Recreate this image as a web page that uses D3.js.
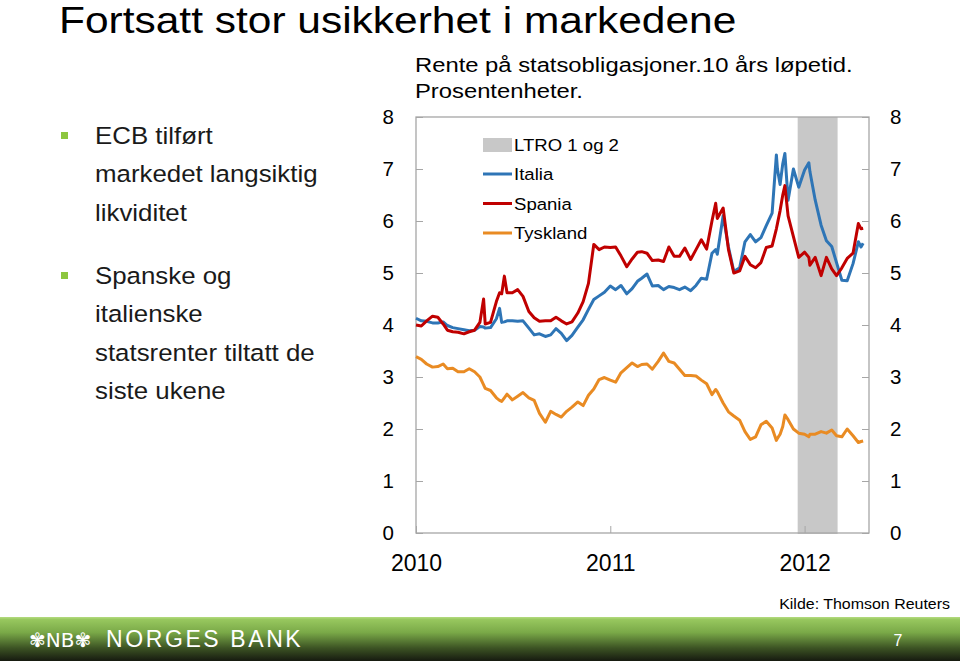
<!DOCTYPE html>
<html><head><meta charset="utf-8">
<script src="https://cdn.jsdelivr.net/npm/d3@7"></script>
<style>
html,body{margin:0;padding:0;background:#fff;}
svg{display:block;font-family:"Liberation Sans",Arial,sans-serif;}
</style></head>
<body><svg id="c" width="960" height="661"></svg>
<script>
// ---- data ----
const dates = [
"2010-01-01","2010-01-11","2010-01-21","2010-02-01","2010-02-11","2010-02-21","2010-03-01","2010-03-11","2010-03-21",
"2010-04-01","2010-04-11","2010-04-21","2010-05-01","2010-05-08","2010-05-11","2010-05-21","2010-06-01","2010-06-07",
"2010-06-11","2010-06-16","2010-06-21","2010-07-01","2010-07-11","2010-07-21","2010-08-01","2010-08-11","2010-08-21",
"2010-09-01","2010-09-11","2010-09-21","2010-10-01","2010-10-11","2010-10-21","2010-11-01","2010-11-11","2010-11-21",
"2010-12-01","2010-12-11","2010-12-21",
"2011-01-01","2011-01-11","2011-01-21","2011-02-01","2011-02-11","2011-02-21","2011-03-01","2011-03-11","2011-03-21",
"2011-04-01","2011-04-11","2011-04-21","2011-05-01","2011-05-11","2011-05-21","2011-06-01","2011-06-11","2011-06-21",
"2011-07-01","2011-07-11","2011-07-18","2011-07-21","2011-08-01","2011-08-11","2011-08-21","2011-09-01","2011-09-11",
"2011-09-21","2011-10-01","2011-10-11","2011-10-21","2011-11-01","2011-11-09","2011-11-11","2011-11-16","2011-11-21",
"2011-11-25","2011-12-01","2011-12-11","2011-12-21",
"2012-01-01","2012-01-09","2012-01-11","2012-01-21","2012-02-01","2012-02-11","2012-02-21","2012-03-01","2012-03-11",
"2012-03-21","2012-04-01","2012-04-11","2012-04-16","2012-04-20"];

const italia = [
4.13,4.08,4.07,4.04,4.04,4.06,3.99,3.95,3.93,
3.91,3.89,3.90,3.97,3.96,3.94,3.95,4.12,4.32,
4.05,4.06,4.08,4.08,4.07,4.08,3.94,3.81,3.83,
3.78,3.81,3.93,3.84,3.70,3.80,3.96,4.10,4.30,
4.49,4.56,4.63,
4.75,4.68,4.76,4.60,4.70,4.84,4.90,4.98,4.75,
4.76,4.68,4.74,4.72,4.68,4.73,4.66,4.76,4.90,
4.88,5.38,5.45,5.36,6.10,5.50,5.03,5.10,5.60,
5.74,5.60,5.68,5.91,6.15,7.27,7.00,6.70,7.10,
7.30,6.40,7.00,6.65,
6.98,7.12,6.95,6.40,5.92,5.62,5.51,5.20,4.86,
4.85,5.18,5.60,5.50,5.57];

const spania = [
4.00,3.98,4.08,4.17,4.15,4.02,3.90,3.87,3.86,
3.83,3.87,3.90,4.05,4.50,4.02,4.05,4.45,4.62,
4.60,4.94,4.62,4.62,4.68,4.55,4.26,4.14,4.07,
4.08,4.08,4.15,4.08,4.02,4.06,4.23,4.45,4.80,
5.55,5.45,5.50,
5.49,5.50,5.33,5.12,5.27,5.40,5.41,5.38,5.24,
5.25,5.22,5.50,5.32,5.32,5.48,5.26,5.45,5.64,
5.46,6.00,6.34,6.05,6.25,5.45,5.00,5.04,5.32,
5.16,5.10,5.20,5.49,5.52,5.85,5.95,6.20,6.50,
6.68,6.10,5.70,5.30,
5.40,5.30,5.15,5.30,4.95,5.30,5.08,4.95,5.10,
5.28,5.38,5.95,5.85,5.86];

const tyskland = [
3.39,3.34,3.25,3.19,3.20,3.25,3.16,3.17,3.10,
3.10,3.16,3.10,3.00,2.85,2.78,2.74,2.60,2.55,
2.53,2.60,2.67,2.56,2.63,2.70,2.60,2.55,2.30,
2.13,2.34,2.28,2.23,2.34,2.42,2.52,2.45,2.65,
2.77,2.95,2.99,
2.94,2.90,3.08,3.18,3.27,3.20,3.24,3.25,3.15,
3.30,3.46,3.30,3.27,3.15,3.03,3.03,3.02,2.94,
2.87,2.66,2.76,2.72,2.50,2.33,2.25,2.17,1.95,
1.80,1.85,2.08,2.15,2.02,1.78,1.82,1.90,2.05,
2.27,2.18,2.00,1.92,
1.90,1.85,1.90,1.90,1.95,1.92,1.98,1.87,1.85,
2.00,1.87,1.74,1.76,1.77];

const ltro = ["2011-12-19","2012-03-03"];
const yTicks = [0,1,2,3,4,5,6,7,8];
const xTicks = ["2010-01-01","2011-01-01","2012-01-01"];
const seriesNames = ["Italia","Spania","Tyskland"];
const seriesColors = ["#2e75b6","#c00000","#e98b23"];
const bullets = [
  ["ECB tilført","markedet langsiktig","likviditet"],
  ["Spanske og","italienske","statsrenter tiltatt de","siste ukene"]
];

// ---- drawing ----
const parse = d3.timeParse("%Y-%m-%d");
const svg = d3.select("#c");
const L=416, R=869, T=117, B=533;

const x = d3.scaleTime().domain([parse("2010-01-01"), parse("2012-05-01")]).range([L,R]);
const y = d3.scaleLinear().domain([0,8]).range([B,T]);

// text helper with horizontal stretch
function txt(px,py,size,sx,str,opts={}){
  const t = svg.append("text")
    .attr("transform",`translate(${px},${py}) scale(${sx},1)`)
    .attr("font-size",size).attr("fill",opts.fill||"#000")
    .attr("text-anchor",opts.anchor||"start").text(str);
  if(opts.family) t.attr("font-family",opts.family);
  if(opts.ls) t.attr("letter-spacing",opts.ls);
  return t;
}

// title
txt(59,33,36.3,1.17,"Fortsatt stor usikkerhet i markedene");

// bullets
const bStart=[144,284];
bullets.forEach((lines,i)=>{
  svg.append("rect").attr("x",61).attr("y",bStart[i]-12).attr("width",7).attr("height",7).attr("fill","#8dc63f");
  lines.forEach((t,j)=>{
    txt(95,bStart[i]+j*38.3,23.5,1.1,t,{fill:"#1a1a1a"});
  });
});

// chart subtitle
txt(415,72,20,1.19,"Rente på statsobligasjoner.10 års løpetid.");
txt(415,98,20,1.19,"Prosentenheter.");

// LTRO band
svg.append("rect").attr("x",x(parse(ltro[0]))).attr("y",T)
  .attr("width",x(parse(ltro[1]))-x(parse(ltro[0]))).attr("height",B-T+1).attr("fill","#c8c8c8");

// axes
const axFont = (g,size)=>{g.select(".domain").remove(); g.selectAll("text").attr("font-size",size).attr("fill","#000").attr("font-family","Liberation Sans, Arial, sans-serif"); g.selectAll("line").attr("stroke","#a6a6a6");};
svg.append("g").attr("transform",`translate(${L},0)`)
  .call(d3.axisLeft(y).tickValues(yTicks).tickSize(-7).tickPadding(22).tickFormat(d3.format("d"))).call(g=>axFont(g,20.5));
svg.append("g").attr("transform",`translate(${R},0)`)
  .call(d3.axisRight(y).tickValues(yTicks).tickSize(-7).tickPadding(21).tickFormat(d3.format("d"))).call(g=>axFont(g,20.5));
svg.append("g").attr("transform",`translate(0,${B})`)
  .call(d3.axisBottom(x).tickValues(xTicks.map(parse)).tickSize(-7).tickPadding(21.5).tickFormat(d3.timeFormat("%Y"))).call(g=>axFont(g,23));

// frame
svg.append("rect").attr("x",L).attr("y",T).attr("width",R-L).attr("height",B-T)
  .attr("fill","none").attr("stroke","#a6a6a6").attr("stroke-width",1.3);

// lines
const seriesData=[italia,spania,tyskland];
const line = d3.line().x(d=>x(d[0])).y(d=>y(d[1]));
[2,0,1].forEach(i=>{
  const pts = dates.map((d,k)=>[parse(d),seriesData[i][k]]);
  svg.append("path").datum(pts).attr("d",line).attr("fill","none")
    .attr("stroke",seriesColors[i]).attr("stroke-width",3).attr("stroke-linejoin","round");
});

// legend
svg.append("rect").attr("x",483).attr("y",138).attr("width",29).attr("height",14).attr("fill","#c8c8c8");
txt(514,151,16.3,1.14,"LTRO 1 og 2");
const legY=[174,203.5,233];
seriesNames.forEach((n,i)=>{
  svg.append("line").attr("x1",483).attr("x2",512).attr("y1",legY[i]).attr("y2",legY[i]).attr("stroke",seriesColors[i]).attr("stroke-width",3);
  txt(514,legY[i]+6,16.3,1.14,n);
});

// source
txt(950,609,15.5,1.03,"Kilde: Thomson Reuters",{anchor:"end"});

// footer bar
const defs=svg.append("defs");
const gr=defs.append("linearGradient").attr("id","fg").attr("x1",0).attr("y1",0).attr("x2",0).attr("y2",1);
[[0,"#b5dc80"],[0.06,"#97c75e"],[0.35,"#7aa948"],[0.7,"#3d5424"],[1,"#161a10"]].forEach(s=>gr.append("stop").attr("offset",s[0]).attr("stop-color",s[1]));
svg.append("rect").attr("x",0).attr("y",617).attr("width",960).attr("height",44).attr("fill","url(#fg)");
txt(29,647,20,1,"✾NB✾",{fill:"#fff",family:"DejaVu Sans, sans-serif"});
txt(106,647,23,1,"NORGES BANK",{fill:"#fff",ls:2.6});
txt(898,646,16,1,"7",{fill:"#fff",anchor:"middle"});
</script></body></html>
